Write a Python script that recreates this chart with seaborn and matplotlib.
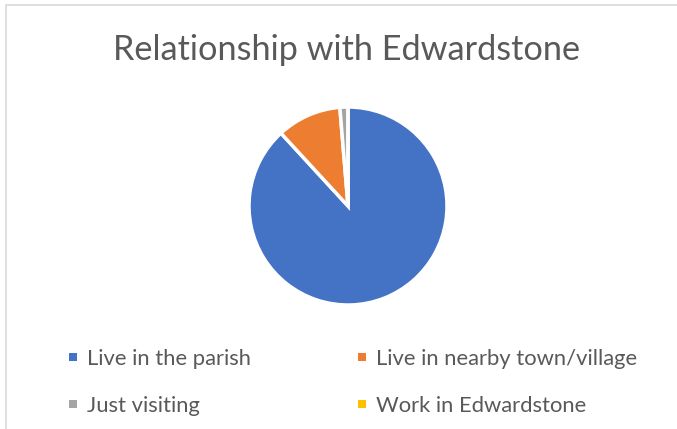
import matplotlib.pyplot as plt
import seaborn as sns
from matplotlib.patches import Rectangle

# Survey responses (number of respondents)
categories = ["Live in the parish", "Live in nearby town/village", "Just visiting", "Work in Edwardstone"]
counts = [67, 8, 1, 0]
colors = ["#4472C4", "#ED7D31", "#A5A5A5", "#FFC000"]

sns.set_theme(style="white")
plt.rcParams["font.family"] = ["Lato", "DejaVu Sans"]

fig = plt.figure(figsize=(6.77, 4.29), dpi=100)
W, H = 677, 429

# chart frame (only top and left edges visible in the crop)
fig.add_artist(Rectangle((6 / W, -0.1), 1.2, (H - 5) / H + 0.1, transform=fig.transFigure,
                         facecolor="none", edgecolor="#D9D9D9", linewidth=1.2))

cx, cy, r = 348, 206, 99
ax = fig.add_axes([(cx - r) / W, (H - cy - r) / H, 2 * r / W, 2 * r / H])
ax.pie(counts, colors=colors, startangle=90, counterclock=False,
       wedgeprops={"edgecolor": "white", "linewidth": 2.5})
ax.set_xlim(-1, 1)
ax.set_ylim(-1, 1)
ax.set_aspect("equal")

fig.text(347 / W, 1 - 50 / H, "Relationship with Edwardstone", ha="center", va="center",
         fontsize=24.7, color="#595959")

# legend, two rows by two columns
slots = [(69, 357), (358, 357), (69, 404), (358, 404)]
for (lx, ly), lab, col in zip(slots, categories, colors):
    fig.add_artist(Rectangle((lx / W, 1 - (ly + 4) / H), 8 / W, 8 / H,
                             transform=fig.transFigure, facecolor=col, edgecolor="none"))
    fig.text((lx + 18) / W, 1 - ly / H, lab, ha="left", va="center_baseline",
             fontsize=15.8, color="#595959")

fig.savefig("out.png", dpi=100)
